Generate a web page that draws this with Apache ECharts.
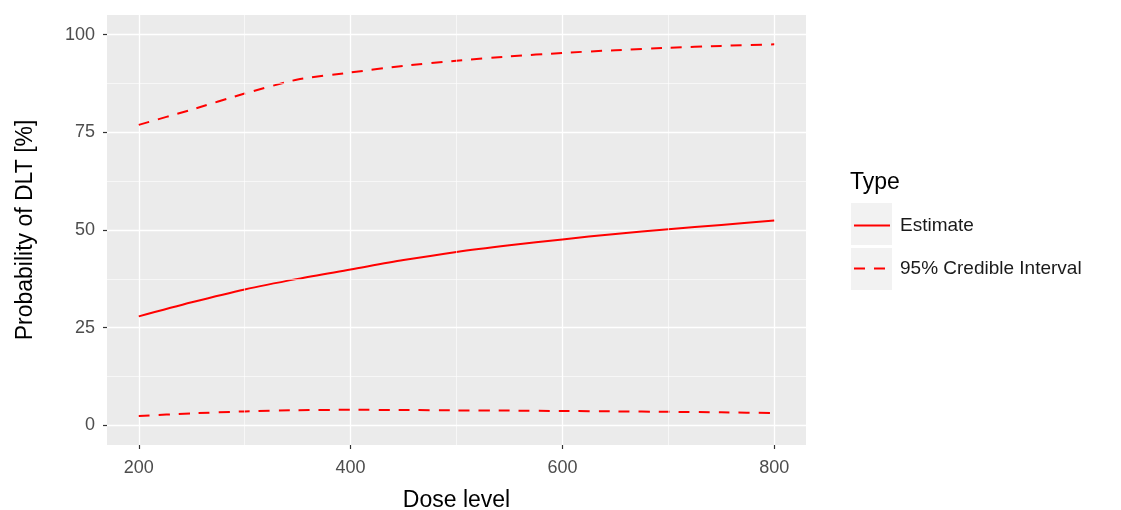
<!DOCTYPE html>
<html>
<head>
<meta charset="utf-8">
<script src="https://cdn.jsdelivr.net/npm/echarts@6/dist/echarts.min.js"></script>
<style>
	html, body { margin: 0; padding: 0; background: #fff; }
	#main { width: 1121px; height: 510px; }
</style>
</head>
<body>
<div id="main"></div>
<script>
// 剂量
const doses = [200, 250, 300, 350, 400, 450, 500, 550, 600, 650, 700, 750, 800];
// 估计值与置信区间
const estimate = [27.9, 31.5, 34.8, 37.5, 39.9, 42.3, 44.4, 46.1, 47.6, 49.0, 50.2, 51.3, 52.4];
const upper = [76.9, 80.8, 84.9, 88.5, 90.3, 92.0, 93.3, 94.4, 95.3, 96.0, 96.6, 97.1, 97.5];
const lower = [2.4, 3.1, 3.6, 3.9, 4.0, 3.95, 3.85, 3.8, 3.7, 3.6, 3.5, 3.35, 3.2];
// 刻度
const xTicks = [200, 400, 600, 800];
const yTicks = [0, 25, 50, 75, 100];
const xMinor = [300, 500, 700];
const yMinor = [12.5, 37.5, 62.5, 87.5];

(function () {
	let myChart = echarts.init(document.getElementById('main'))
	const pair = (ys) => doses.map((d, i) => [d, ys[i]])
	const font = 'Liberation Sans, Arial, sans-serif'

	// 次网格线
	const minorLines = []
	xMinor.forEach(v => minorLines.push({ xAxis: v }))
	yMinor.forEach(v => minorLines.push({ yAxis: v }))

	const option = {
		animation: false,
		grid: {
			left: 107,
			right: 315,
			top: 15,
			bottom: 65,
			outerBoundsMode: 'none',
			containLabel: false,
			show: true,
			backgroundColor: '#EBEBEB',
			borderWidth: 0
		},
		title: {
			text: 'Type',
			left: 850,
			top: 171,
			padding: 0,
			textStyle: { fontFamily: font, fontSize: 23, fontWeight: 'normal', color: '#000' }
		},
		legend: {
			orient: 'vertical',
			left: 853,
			top: 216,
			padding: 0,
			itemWidth: 36,
			itemHeight: 20,
			itemGap: 24,
			itemStyle: { opacity: 0 },
			data: ['Estimate', '95% Credible Interval'],
			textStyle: { fontFamily: font, fontSize: 19, color: '#1a1a1a', padding: [0, 0, 0, 5] }
		},
		graphic: [
			{ type: 'rect', z: 0, shape: { x: 851, y: 203, width: 41, height: 42 }, style: { fill: '#F2F2F2' } },
			{ type: 'rect', z: 0, shape: { x: 851, y: 248, width: 41, height: 42 }, style: { fill: '#F2F2F2' } }
		],
		xAxis: {
			type: 'value',
			min: 170,
			max: 830,
			name: 'Dose level',
			nameLocation: 'middle',
			nameGap: 44,
			nameTextStyle: { fontFamily: font, fontSize: 23, color: '#000' },
			axisLine: { show: false, onZero: false },
			axisTick: { show: true, length: 4, customValues: xTicks, lineStyle: { color: '#333', width: 1.2 } },
			axisLabel: { customValues: xTicks, margin: 14, fontFamily: font, fontSize: 18, color: '#4D4D4D' },
			splitLine: { show: true, lineStyle: { color: '#fff', width: 1.3 } }
		},
		yAxis: {
			type: 'value',
			min: -5,
			max: 105,
			name: 'Probability of DLT [%]',
			nameLocation: 'middle',
			nameGap: 70,
			nameTextStyle: { fontFamily: font, fontSize: 23, color: '#000' },
			axisLine: { show: false, onZero: false },
			axisTick: { show: true, length: 4, customValues: yTicks, lineStyle: { color: '#333', width: 1.2 } },
			axisLabel: { customValues: yTicks, margin: 12, fontFamily: font, fontSize: 18, color: '#4D4D4D' },
			splitLine: { show: true, lineStyle: { color: '#fff', width: 1.3 } }
		},
		series: [
			{
				name: 'minor',
				type: 'line',
				z: 1,
				data: [],
				silent: true,
				markLine: {
					silent: true,
					symbol: 'none',
					label: { show: false },
					lineStyle: { color: '#fff', width: 0.6, type: 'solid' },
					data: minorLines
				}
			},
			{
				name: 'Estimate',
				type: 'line',
				z: 3,
				data: pair(estimate),
				symbol: 'none',
				smooth: 0.3,
				lineStyle: { color: '#FF0000', width: 2 },
				itemStyle: { color: '#FF0000' }
			},
			{
				name: '95% Credible Interval',
				type: 'line',
				z: 3,
				data: pair(upper),
				symbol: 'none',
				smooth: 0.2,
				lineStyle: { color: '#FF0000', width: 2, type: [11, 9] },
				itemStyle: { color: '#FF0000' }
			},
			{
				name: '95% Credible Interval',
				type: 'line',
				z: 3,
				data: pair(lower),
				symbol: 'none',
				smooth: 0.2,
				lineStyle: { color: '#FF0000', width: 2, type: [11, 9] },
				itemStyle: { color: '#FF0000' }
			}
		]
	}
	myChart.setOption(option)
	window.addEventListener('resize', function () {
		myChart.resize();
	})
})();
</script>
</body>
</html>
